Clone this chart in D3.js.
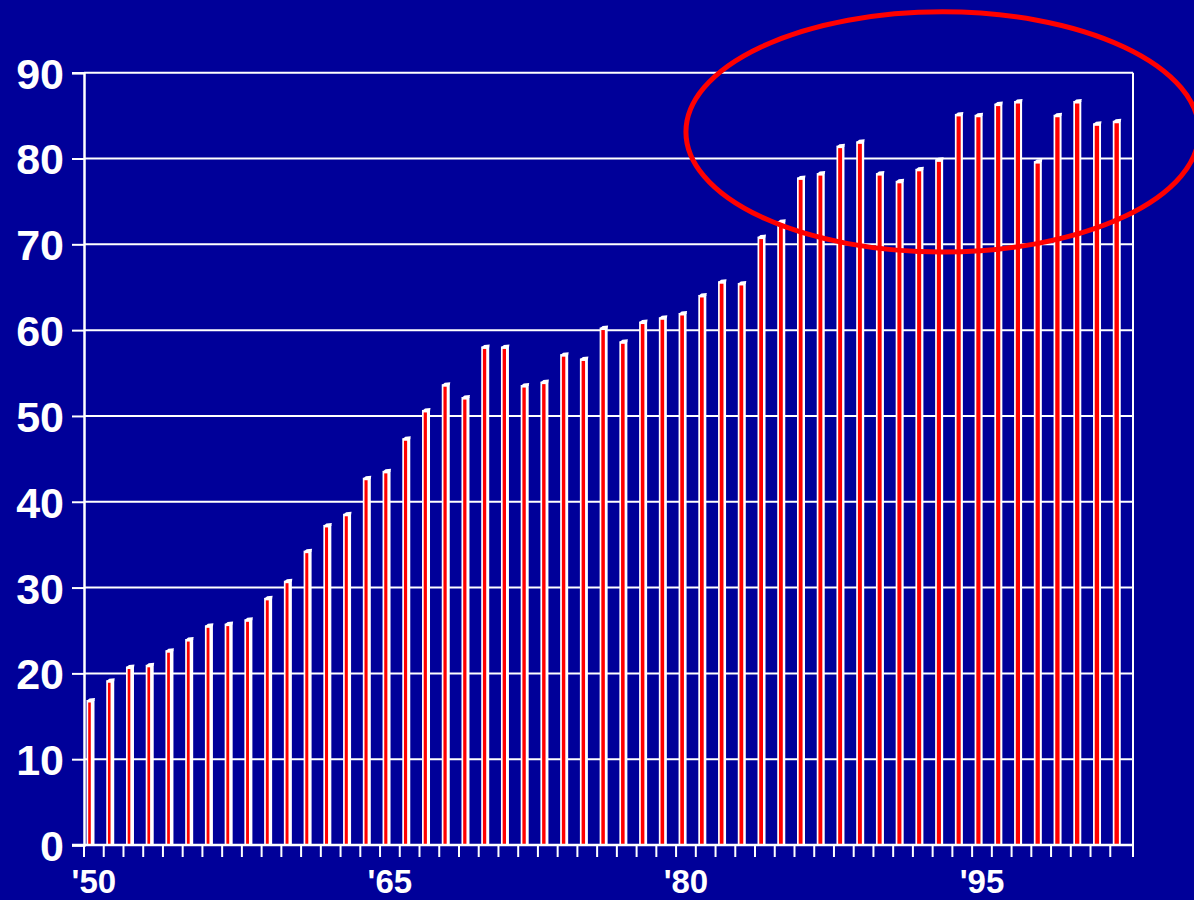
<!DOCTYPE html>
<html><head><meta charset="utf-8">
<script src="https://cdn.jsdelivr.net/npm/d3@7/dist/d3.min.js"></script>
<style>
html,body{margin:0;padding:0;background:#000099;}
svg{display:block;}
text{font-family:"Liberation Sans",Arial,sans-serif;font-weight:bold;fill:#fff;}
</style></head>
<body>
<svg id="chart" width="1194" height="900"></svg>
<script>
const years = d3.range(1950, 2003);
const values = [16.9,19.2,20.8,21.0,22.7,24.0,25.6,25.8,26.3,28.8,
  30.8,34.3,37.3,38.6,42.8,43.6,47.4,50.7,53.7,52.2,
  58.1,58.1,53.6,54.0,57.2,56.7,60.3,58.7,61.0,61.5,
  62.0,64.1,65.7,65.5,70.9,72.7,77.8,78.3,81.5,82.0,
  78.3,77.4,78.8,79.9,85.2,85.1,86.4,86.7,79.7,85.1,
  86.7,84.1,84.4];
const yTicks = [0,10,20,30,40,50,60,70,80,90];
const xLabelYears = [1950,1965,1980,1995];
const highlight = {year:1993, value:83.1, spanYears:13, spanValue:14};

(function(){
const svg = d3.select("#chart");
const pLeft = 84, pRight = 1130, pTop = 72.7, pBottom = 845, frameRight = 1133;

const x = d3.scaleBand().domain(years).range([pLeft, pRight]).padding(0);
const y = d3.scaleLinear().domain([0, 90]).range([pBottom, pTop]);
const bw = x.bandwidth();

svg.append("rect").attr("width",1194).attr("height",900).attr("fill","#000099");

// gridlines
svg.append("g").selectAll("line").data(yTicks.filter(d=>d>0)).join("line")
  .attr("x1", pLeft).attr("x2", frameRight)
  .attr("y1", d=>y(d)).attr("y2", d=>y(d))
  .attr("stroke","#fff").attr("stroke-width",2);

// right frame
svg.append("line").attr("x1",frameRight).attr("x2",frameRight).attr("y1",pTop).attr("y2",pBottom)
  .attr("stroke","#fff").attr("stroke-width",2);

// y axis
const yAxis = d3.axisLeft(y).tickValues(yTicks).tickSize(12).tickPadding(8).tickFormat(d3.format("d"));
const gy = svg.append("g").attr("transform",`translate(${pLeft},0)`).call(yAxis);
gy.select(".domain").attr("stroke","#fff").attr("stroke-width",2.5);
gy.selectAll(".tick line").attr("stroke","#fff").attr("stroke-width",2);
gy.selectAll(".tick text").attr("fill","#fff").style("font-size","43px")
  .style("font-family","'Liberation Sans',Arial,sans-serif").style("font-weight","bold")
  .attr("x",-20).attr("dy","0.36em");

// bars
const bars = svg.append("g");
bars.selectAll("rect.w").data(values).join("rect").attr("class","w")
  .attr("x",(d,i)=>x(years[i])+2.5).attr("width",8)
  .attr("y",d=>y(d)).attr("height",d=>pBottom-y(d)).attr("fill","#fff");
bars.selectAll("rect.r").data(values).join("rect").attr("class","r")
  .attr("x",(d,i)=>x(years[i])+4.2).attr("width",(d,i)=>2.6+i*0.035)
  .attr("y",d=>y(d)+2.5).attr("height",d=>pBottom-y(d)-2.5).attr("fill","#ff0000");
bars.selectAll("path.cap").data(values).join("path").attr("class","cap")
  .attr("d",(d,i)=>{const x0=x(years[i])+2.5, y0=y(d);
    return `M${x0},${y0+1} L${x0+3},${y0-1.5} L${x0+8.5},${y0-2} L${x0+8},${y0+1} Z`;})
  .attr("fill","#fff");

// x axis
svg.append("line").attr("x1",pLeft-12).attr("x2",frameRight+1).attr("y1",pBottom).attr("y2",pBottom)
  .attr("stroke","#fff").attr("stroke-width",2.5);
svg.append("g").selectAll("line").data(years.concat([2003])).join("line")
  .attr("x1",d=>d<2003? x(d): frameRight).attr("x2",d=>d<2003? x(d): frameRight)
  .attr("y1",pBottom).attr("y2",pBottom+12).attr("stroke","#fff").attr("stroke-width",2);
svg.append("g").selectAll("text").data(xLabelYears).join("text")
  .attr("x",d=>x(d)+bw/2).attr("y",893).attr("text-anchor","middle")
  .style("font-size","33px").text(d=>"'"+String(d).slice(2));

// highlight ellipse
svg.append("ellipse")
  .attr("cx", x(1950) + (highlight.year-1950)*bw + bw/2)
  .attr("cy", y(highlight.value))
  .attr("rx", highlight.spanYears*bw)
  .attr("ry", y(0)-y(highlight.spanValue))
  .attr("fill","none").attr("stroke","#ff0000").attr("stroke-width",5);
})();
</script>
</body></html>
